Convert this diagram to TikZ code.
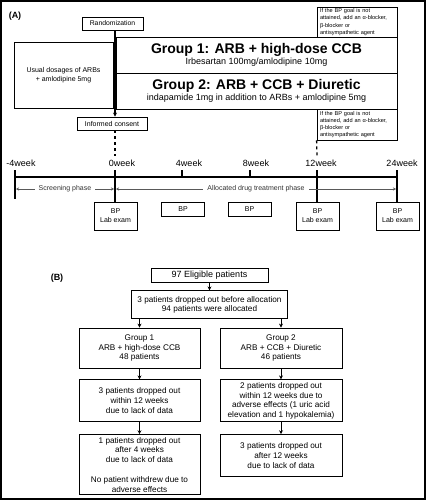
\documentclass[tikz,border=0pt]{standalone}
\usepackage{fontspec}
\setmainfont{Liberation Sans}
\usetikzlibrary{arrows.meta, positioning, calc}

\begin{document}
\begin{tikzpicture}[x=1pt, y=-1pt,
  node distance=10pt and 20pt,
  box/.style={draw, line width=0.8pt, inner sep=1pt, align=center,
              font=\fontsize{7}{8.6}\selectfont},
  note/.style={draw, line width=0.8pt, align=left, inner xsep=3pt, inner ysep=1pt,
               text width=74pt, minimum height=30pt, font=\fontsize{5.6}{7.2}\selectfont},
  grp/.style={box, minimum width=281pt, minimum height=36pt, font=\fontsize{9}{11}\selectfont},
  bp/.style={box, minimum width=43pt, inner sep=0pt, font=\fontsize{7}{9}\selectfont},
  flow/.style={box, minimum width=121pt, font=\fontsize{8.2}{9.8}\selectfont},
  wk/.style={font=\fontsize{9}{10}\selectfont},
  axis/.style={line width=1.5pt},
  phase/.style={draw=black!65, line width=0.6pt, {Stealth[length=3pt,width=3pt]}-{Stealth[length=3pt,width=3pt]}},
  plbl/.style={fill=white, inner xsep=4pt, inner ysep=0pt, text=black!80, font=\fontsize{7}{8}\selectfont},
  arr/.style={-{Stealth[length=4pt,width=4pt]}, line width=0.9pt}
]
  \useasboundingbox (0,0) rectangle (426,500);
  \draw[line width=2pt] (1,1) rectangle (425,499);

  % (A)
  \node[font=\fontsize{9}{10}\selectfont\bfseries] (labA) at (15,16) {(A)};
  \node[box, minimum width=61pt, minimum height=13pt, font=\fontsize{6.8}{8}\selectfont] (rand) at (112.5,23.5) {Randomization};
  \node[box, minimum width=99pt, minimum height=66pt] (usual) at (63.5,75) {Usual dosages of ARBs\\+ amlodipine 5mg};
  \node[grp] (grp1) at (256.5,55)
    {{\fontsize{14}{15}\bfseries Group 1: ARB + high-dose CCB}\\Irbesartan 100mg/amlodipine 10mg};
  \node[grp] (grp2) at (256.5,91)
    {{\fontsize{14}{15}\bfseries Group 2: ARB + CCB + Diuretic}\\indapamide 1mg in addition to ARBs + amlodipine 5mg};
  \node[note] (note1) at (357,22) {If the BP goal is not\\attained, add an α-blocker,\\β-blocker or\\antisympathetic agent};
  \node[note, minimum height=31pt] (note2) at (357,124.5) {If the BP goal is not\\attained, add an α-blocker,\\β-blocker or\\antisympathetic agent};
  \node[box, minimum width=70pt, minimum height=13pt] (consent) at (112,123.5) {Informed consent};

  \coordinate (tm4) at (15,177);
  \coordinate (t0)  at (115,177);
  \coordinate (t4)  at (182,177);
  \coordinate (t8)  at (250,177);
  \coordinate (t12) at (317,177);
  \coordinate (t24) at (397,177);

  \node[wk] (lm4) at (21,163) {-4week};
  \node[wk] (l0)  at (122,163) {0week};
  \node[wk] (l4)  at (189,163) {4week};
  \node[wk] (l8)  at (256,163) {8week};
  \node[wk] (l12) at (321,163) {12week};
  \node[wk] (l24) at (402,163) {24week};

  \node[bp, minimum height=28pt] (bp0)  at (115.5,216) {BP\\Lab exam};
  \node[bp, minimum height=14pt] (bp4)  at (183,209) {BP};
  \node[bp, minimum height=14pt] (bp8)  at (249.5,209) {BP};
  \node[bp, minimum height=28pt] (bp12) at (317.5,216) {BP\\Lab exam};
  \node[bp, minimum height=28pt] (bp24) at (397.5,216) {BP\\Lab exam};

  \draw[arr, line width=1.5pt] (rand.south -| t0) -- (consent.north -| t0);
  \draw[dashed, line width=1.3pt] (consent.south -| t0) -- (l0.north -| t0);
  \draw[dashed, line width=1.3pt] (note2.south west) -- (l12.north -| t12);

  \draw[axis] (tm4) -- (t24);
  \draw[axis] ([yshift=7pt]tm4) -- ([yshift=-22pt]tm4);
  \draw[axis] ([yshift=7pt]t0) -- (t0 |- bp0.north);
  \draw[axis] ([yshift=7pt]t4) -- (t4);
  \draw[axis] ([yshift=7pt]t8) -- (t8);
  \draw[axis] ([yshift=7pt]t12) -- (t12 |- bp12.north);
  \draw[axis] ([yshift=7pt]t24) -- (t24 |- bp24.north);

  \draw[phase] ([xshift=1pt,yshift=-12pt]tm4) -- node[plbl] {Screening phase} ([xshift=-1pt,yshift=-12pt]t0);
  \draw[phase] ([xshift=1pt,yshift=-12pt]t0) -- node[plbl] {Allocated drug treatment phase} ([xshift=-1pt,yshift=-12pt]t24);

  % (B)
  \node[font=\fontsize{9}{10}\selectfont\bfseries] (labB) at (57,278) {(B)};
  \node[box, minimum width=117pt, minimum height=14pt, font=\fontsize{9}{10}\selectfont] (elig) at (209.5,275) {97 Eligible patients};
  \node[box, minimum width=156pt, minimum height=28pt, font=\fontsize{8.2}{9.8}\selectfont, below=8pt of elig] (drop0)
    {3 patients dropped out before allocation\\94 patients were allocated};
  \node[flow, minimum height=40pt] (g1) at (139.5,348) {Group 1\\ARB + high-dose CCB\\48 patients};
  \node[flow, minimum height=40pt, minimum width=122pt] (g2) at (281,348) {Group 2\\ARB + CCB + Diuretic\\46 patients};
  \node[flow, minimum height=42pt, below=11pt of g1] (g1a) {3 patients dropped out\\within 12 weeks\\due to lack of data};
  \node[flow, minimum height=42pt, minimum width=122pt, below=11pt of g2] (g2a)
    {2 patients dropped out\\within 12 weeks due to\\adverse effects (1 uric acid\\elevation and 1 hypokalemia)};
  \node[flow, minimum height=60pt, below=12pt of g1a] (g1b)
    {1 patients dropped out\\after 4 weeks\\due to lack of data\\[9.8pt]No patient withdrew due to\\adverse effects};
  \node[flow, minimum height=42pt, minimum width=122pt, below=12pt of g2a] (g2b) {3 patients dropped out\\after 12 weeks\\due to lack of data};

  \draw[arr] (elig) -- (drop0);
  \draw[arr] (drop0.south -| g1.north) -- (g1.north);
  \draw[arr] (drop0.south -| g2.north) -- (g2.north);
  \draw[arr] (g1) -- (g1a);
  \draw[arr] (g2) -- (g2a);
  \draw[arr] (g1a) -- (g1b);
  \draw[arr] (g2a) -- (g2b);
\end{tikzpicture}
\end{document}
